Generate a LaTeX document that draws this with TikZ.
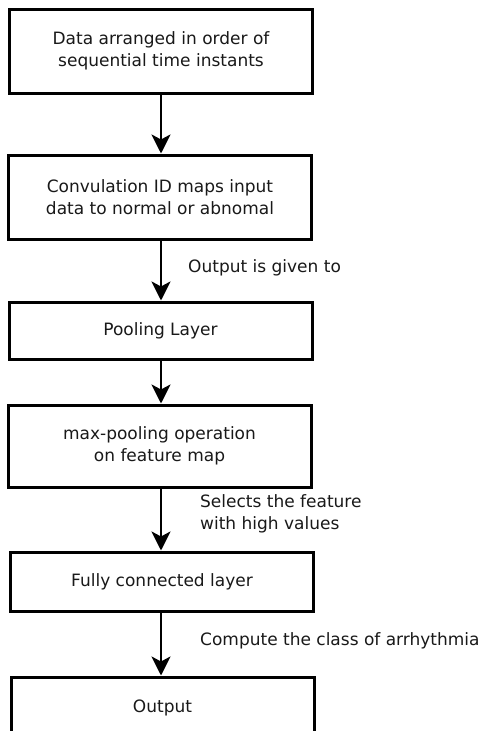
\documentclass[tikz,border=0pt]{standalone}
\usepackage{fontspec}
\setmainfont{DejaVu Sans}
\usetikzlibrary{arrows.meta}
\begin{document}
\begin{tikzpicture}[x=1pt,y=-1pt,
  stagebox/.style={draw=black,line width=3pt,minimum width=303pt,align=center,
    font=\fontsize{17}{22}\selectfont,text=black!90,inner sep=0pt},
  flow/.style={-{Stealth[length=19pt,width=19pt,inset=5pt]},line width=2.8pt},
  note/.style={anchor=west,align=left,font=\fontsize{17}{22}\selectfont,text=black!90,inner sep=0pt}]
  \clip (0,0) rectangle (482,731);
  \fill[white] (0,0) rectangle (482,731);
  \node[stagebox,minimum height=84pt] (b1) at (161,51) {Data arranged in order of\\sequential time instants};
  \node[stagebox,minimum height=84pt] (b2) at (160,197) {Convulation ID maps input\\data to normal or abnomal};
  \node[stagebox,minimum height=57pt] (b3) at (160.5,330.5) {Pooling Layer};
  \node[stagebox,minimum height=82pt] (b4) at (159.5,446) {max-pooling operation\\on feature map};
  \node[stagebox,minimum height=59pt] (b5) at (162,581.5) {Fully connected layer};
  \node[stagebox,minimum height=62pt] (b6) at (162.5,708) {Output};
  \draw[flow] (b1.south) -- (b1.south |- b2.north);
  \draw[flow] (b1.south |- b2.south) -- (b1.south |- b3.north);
  \draw[flow] (b1.south |- b3.south) -- (b1.south |- b4.north);
  \draw[flow] (b1.south |- b4.south) -- (b1.south |- b5.north);
  \draw[flow] (b1.south |- b5.south) -- (b1.south |- b6.north);
  \node[note] (l1) at (188,268) {Output is given to};
  \node[note] (l2) at (200,514) {Selects the feature\\with high values};
  \node[note] (l3) at (200,641) {Compute the class of arrhythmia};
\end{tikzpicture}
\end{document}
